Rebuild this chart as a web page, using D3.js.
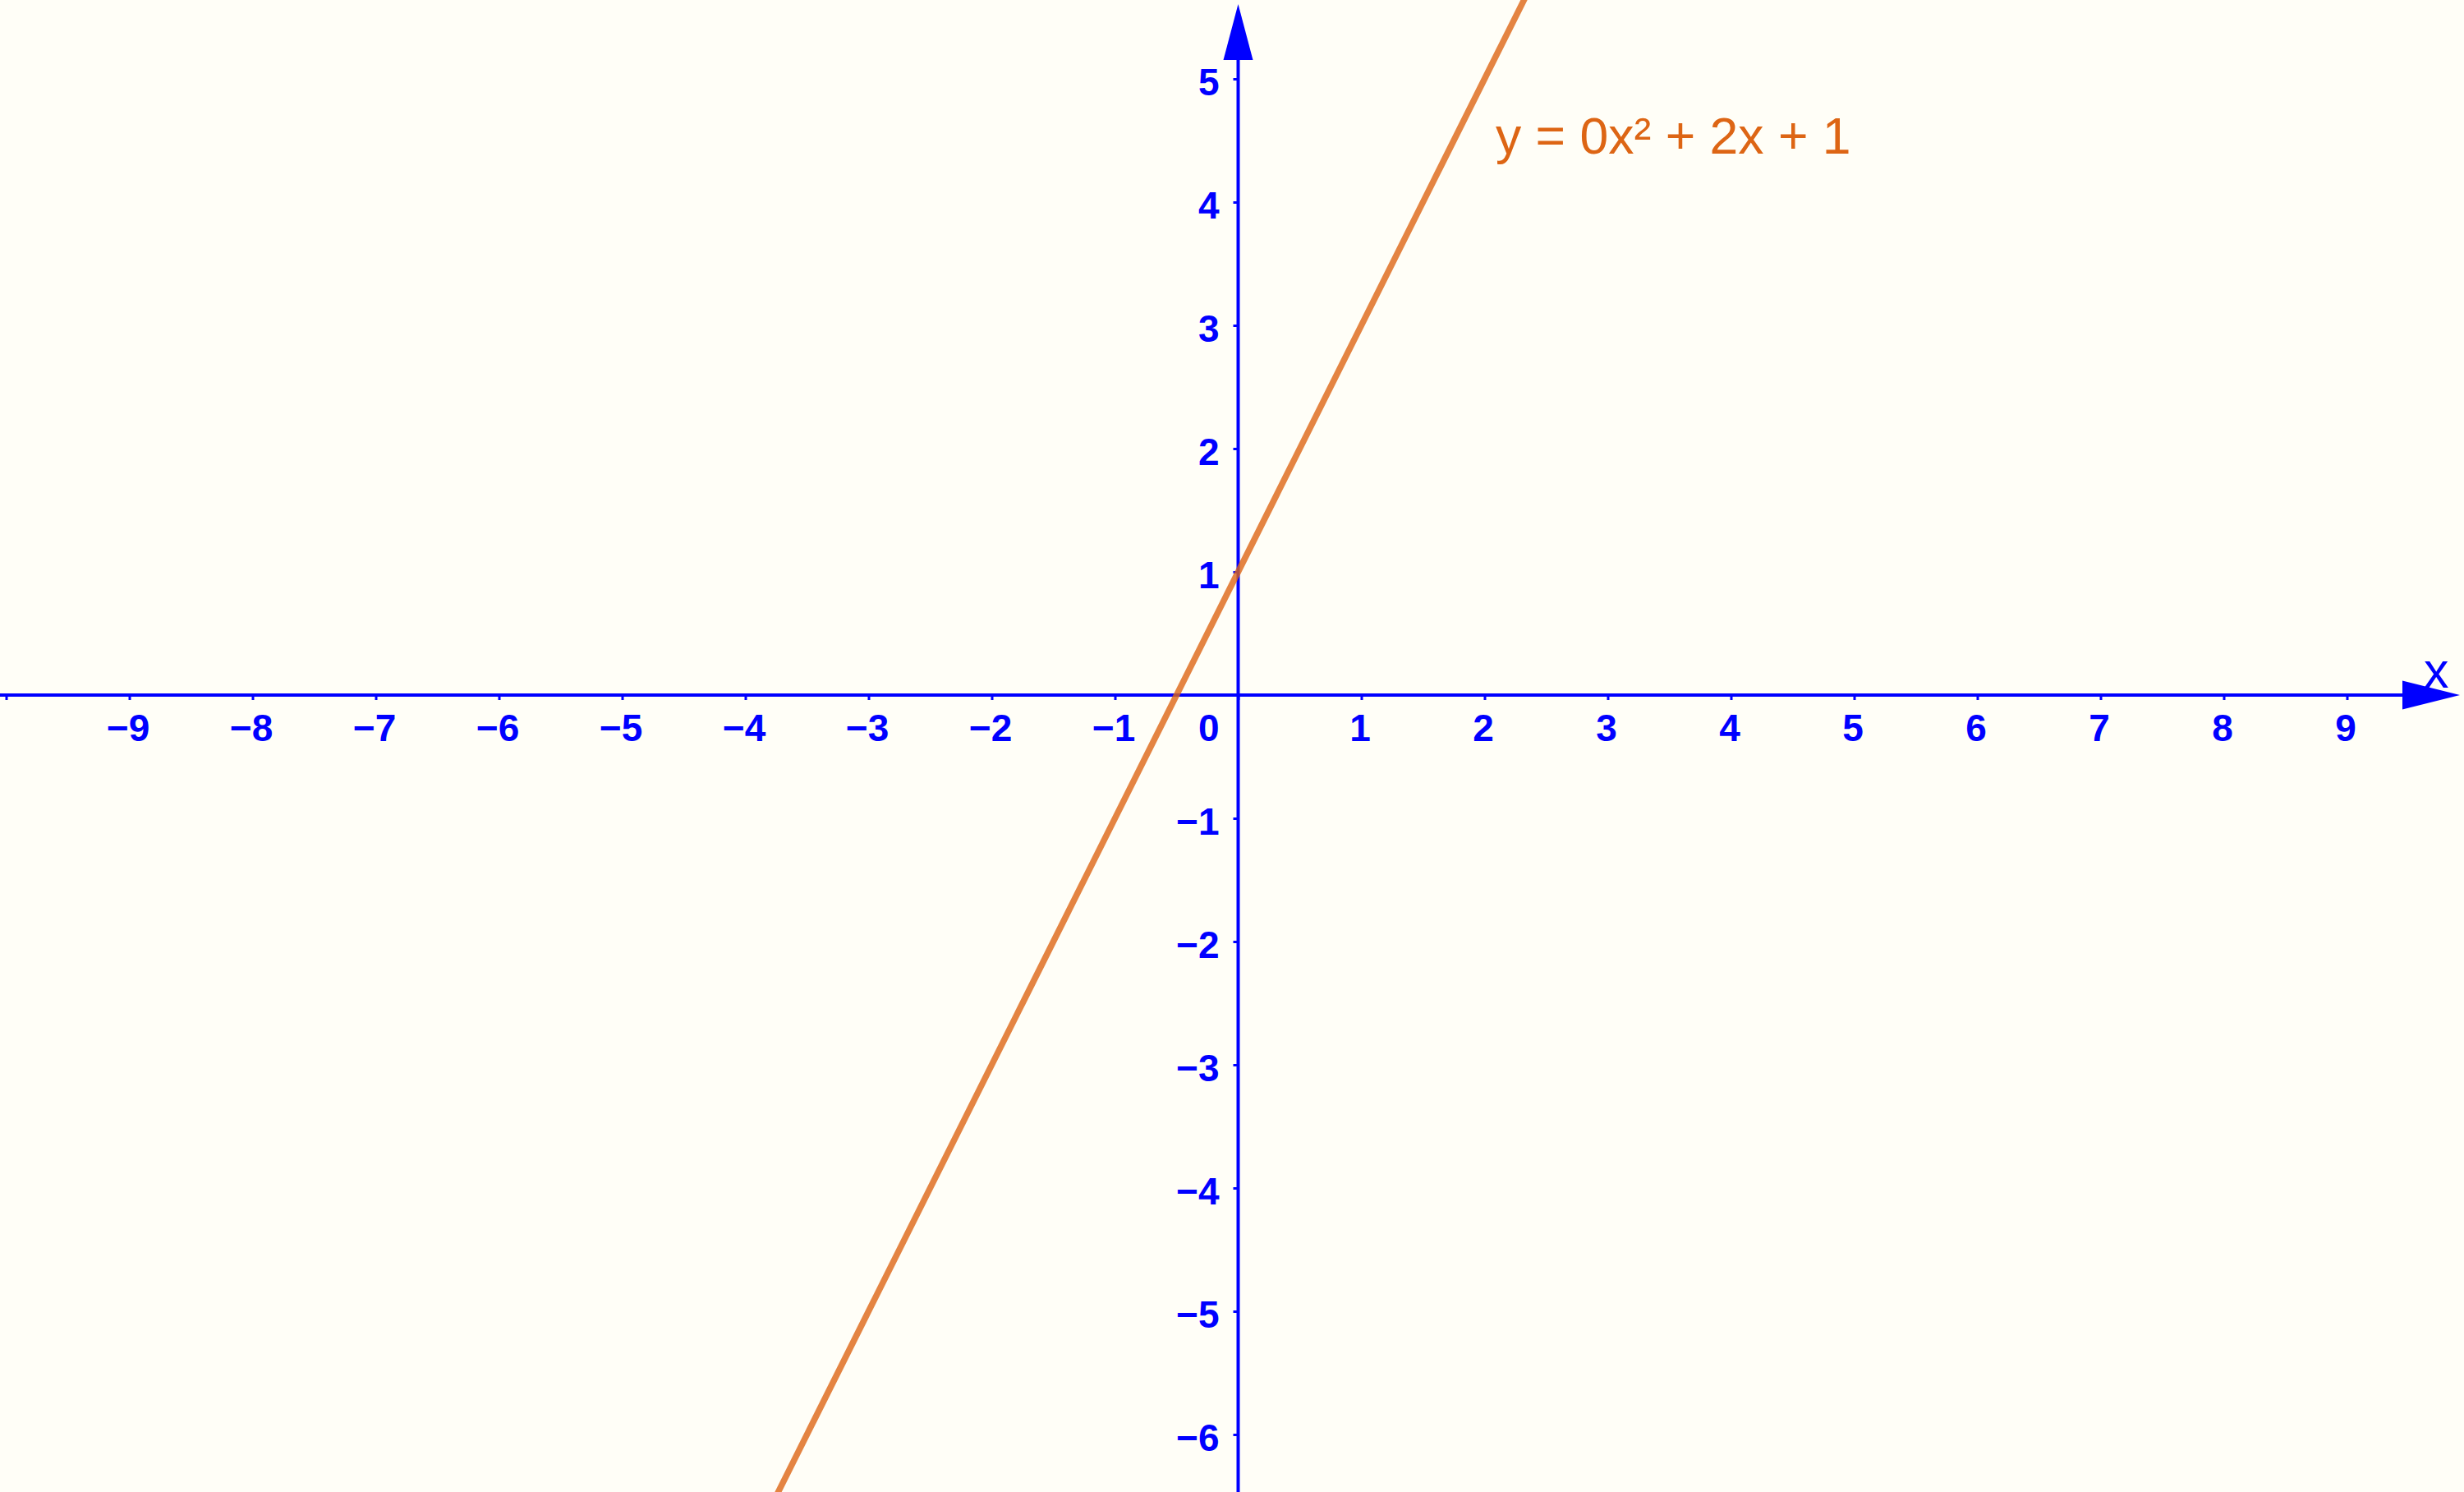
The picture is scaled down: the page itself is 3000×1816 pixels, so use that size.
<!DOCTYPE html>
<html>
<head>
<meta charset="utf-8">
<script src="https://cdn.jsdelivr.net/npm/d3@7/dist/d3.min.js"></script>
<style>
  html, body { margin: 0; padding: 0; background: #fffef7; }
  svg { display: block; }
</style>
</head>
<body>
<svg id="chart" width="3000" height="1816"></svg>
<script>
// ---- data ----
const xTickValues = [-10, -9, -8, -7, -6, -5, -4, -3, -2, -1, 0, 1, 2, 3, 4, 5, 6, 7, 8, 9];
const xTickLabels = ["", "-9", "-8", "-7", "-6", "-5", "-4", "-3", "-2", "-1", "", "1", "2", "3", "4", "5", "6", "7", "8", "9"];
const yTickValues = [-6, -5, -4, -3, -2, -1, 1, 2, 3, 4, 5];
const yTickLabels = ["-6", "-5", "-4", "-3", "-2", "-1", "1", "2", "3", "4", "5"];
const originLabel = "0";
const lineXs = [-4, 3];          // endpoints of y = 2x + 1 (clipped by the view)
const lineYs = [-7, 7];
const equationLabel = "y = 0x² + 2x + 1";
const xAxisName = "x";

// ---- layout ----
const W = 3000, H = 1816;
const x = d3.scaleLinear().domain([-10.05, 9.95]).range([0, W]);
const y = d3.scaleLinear().domain([-6.4667, 5.64]).range([H, 0]);
const axisColor = "#0000ff";
const curveColor = "#dd6514";
const fontFam = "'Liberation Sans', Arial, Helvetica, sans-serif";
const minus = s => s.replace("-", "\u2212");

const svg = d3.select("#chart");
svg.append("rect").attr("width", W).attr("height", H).attr("fill", "#fffef7");

const X0 = x(0), Y0 = y(0);

// axis lines
svg.append("line").attr("x1", 0).attr("x2", W - 40).attr("y1", Y0).attr("y2", Y0)
  .attr("stroke", axisColor).attr("stroke-width", 4);
svg.append("line").attr("x1", X0).attr("x2", X0).attr("y1", H).attr("y2", 40)
  .attr("stroke", axisColor).attr("stroke-width", 4);

// arrowheads
svg.append("path")
  .attr("d", `M${W - 5},${Y0} L${W - 75},${Y0 - 17.5} L${W - 75},${Y0 + 17.5} Z`)
  .attr("fill", axisColor);
svg.append("path")
  .attr("d", `M${X0},5 L${X0 - 18},73 L${X0 + 18},73 Z`)
  .attr("fill", axisColor);

// x axis ticks + labels
const xAxis = d3.axisBottom(x).tickValues(xTickValues).tickSize(6)
  .tickFormat((d, i) => minus(xTickLabels[i]));
const gx = svg.append("g").attr("transform", `translate(0,${Y0})`).call(xAxis);
gx.select(".domain").remove();
gx.selectAll(".tick line").attr("stroke", axisColor).attr("stroke-width", 3);
gx.selectAll(".tick text")
  .attr("fill", axisColor).attr("font-family", fontFam).attr("font-weight", "bold")
  .attr("font-size", 46).attr("dy", 0).attr("y", 56).attr("x", -2)
  .attr("text-anchor", "middle");

// y axis ticks + labels
const yAxis = d3.axisLeft(y).tickValues(yTickValues).tickSize(6)
  .tickFormat((d, i) => minus(yTickLabels[i]));
const gy = svg.append("g").attr("transform", `translate(${X0},0)`).call(yAxis);
gy.select(".domain").remove();
gy.selectAll(".tick line").attr("stroke", axisColor).attr("stroke-width", 3);
gy.selectAll(".tick text")
  .attr("fill", axisColor).attr("font-family", fontFam).attr("font-weight", "bold")
  .attr("font-size", 46).attr("dy", 0).attr("y", 20).attr("x", -23)
  .attr("text-anchor", "end");

// origin label
svg.append("text").attr("x", X0 - 23).attr("y", Y0 + 56)
  .attr("text-anchor", "end").attr("fill", axisColor)
  .attr("font-family", fontFam).attr("font-weight", "bold").attr("font-size", 46)
  .text(originLabel);

// axis name
svg.append("text").attr("x", 2951).attr("y", 837)
  .attr("fill", axisColor).attr("font-family", fontFam).attr("font-size", 61)
  .text(xAxisName);

// the line
const pts = lineXs.map((v, i) => [v, lineYs[i]]);
svg.append("path")
  .datum(pts)
  .attr("d", d3.line().x(d => x(d[0])).y(d => y(d[1])))
  .attr("fill", "none").attr("stroke", curveColor)
  .attr("stroke-opacity", 0.8).attr("stroke-width", 7.5);

// equation label
svg.append("text").attr("x", 1821).attr("y", 187)
  .attr("fill", curveColor).attr("font-family", fontFam).attr("font-size", 62.5)
  .text(equationLabel);
</script>
</body>
</html>
